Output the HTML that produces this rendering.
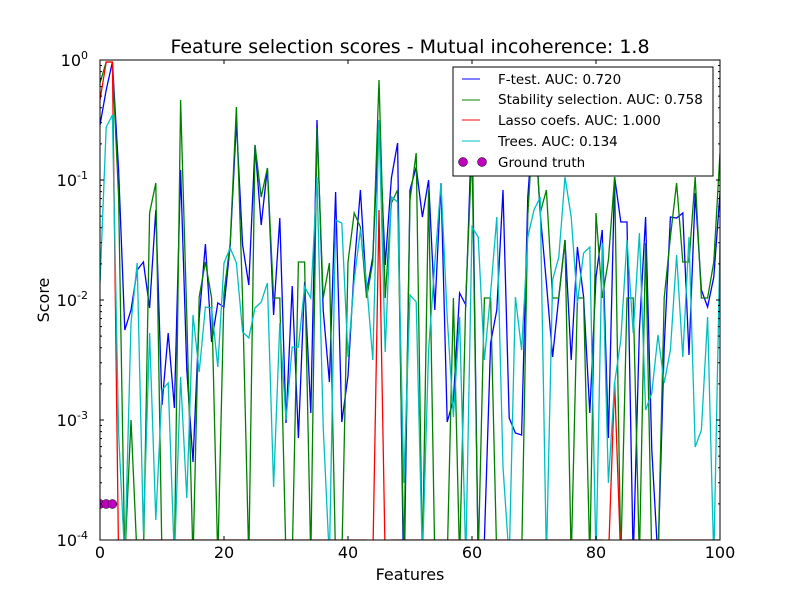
<!DOCTYPE html>
<html><head><meta charset="utf-8"><style>
body{margin:0;background:#fff}
svg{display:block;font-family:"DejaVu Sans","Liberation Sans",sans-serif}
</style></head><body>
<svg id="s" width="800" height="600" xmlns="http://www.w3.org/2000/svg">
<rect width="800" height="600" fill="#fff"/>
<defs><clipPath id="c"><rect x="100" y="60" width="620" height="480"/></clipPath></defs>
<g id="plot" clip-path="url(#c)"></g>
<rect x="100" y="60" width="620" height="480" fill="none" stroke="#000" stroke-width="1"/>
<g id="ticks" stroke="#000" stroke-width="1"></g>
<g font-size="16" text-anchor="middle">
<text x="100" y="558">0</text><text x="224" y="558">20</text><text x="348" y="558">40</text>
<text x="472" y="558">60</text><text x="596" y="558">80</text><text x="720" y="558">100</text>
</g>
<g font-size="16" text-anchor="end">
<text x="88" y="66">10<tspan font-size="11" dy="-7">0</tspan></text>
<text x="88" y="186">10<tspan font-size="11" dy="-7">-1</tspan></text>
<text x="88" y="306">10<tspan font-size="11" dy="-7">-2</tspan></text>
<text x="88" y="426">10<tspan font-size="11" dy="-7">-3</tspan></text>
<text x="88" y="546">10<tspan font-size="11" dy="-7">-4</tspan></text>
</g>
<text x="410" y="53" font-size="19" text-anchor="middle">Feature selection scores - Mutual incoherence: 1.8</text>
<text x="410" y="580" font-size="16" text-anchor="middle">Features</text>
<text x="49" y="300" font-size="16" text-anchor="middle" transform="rotate(-90 49 300)">Score</text>
<g>
<rect x="453" y="67" width="260" height="109" fill="#fff" stroke="#000"/>
<line x1="462" y1="79" x2="480" y2="79" stroke="#0000ff"/>
<line x1="462" y1="100" x2="480" y2="100" stroke="#008000"/>
<line x1="462" y1="120" x2="480" y2="120" stroke="#ff0000"/>
<line x1="462" y1="141" x2="480" y2="141" stroke="#00bfbf"/>
<circle cx="463" cy="162" r="4.5" fill="#bf00bf" stroke="#000" stroke-width="0.5"/>
<circle cx="482" cy="162" r="4.5" fill="#bf00bf" stroke="#000" stroke-width="0.5"/>
<g font-size="13.5">
<text x="498" y="84">F-test. AUC: 0.720</text>
<text x="498" y="104">Stability selection. AUC: 0.758</text>
<text x="498" y="125">Lasso coefs. AUC: 1.000</text>
<text x="498" y="146">Trees. AUC: 0.134</text>
<text x="498" y="167">Ground truth</text>
</g>
</g>
</svg>
<script>
var B=[125,90,62,170,330,310,270,262,308,210,405,333,408,170,370,462,318,244,342,303,307,245,122,245,285,145,225,168,315,218,423,286,438,282,413,120,310,382,192,422,376,268,190,292,257,120,265,178,143,600,190,167,217,180,310,183,422,400,293,305,120,560,540,343,310,190,418,433,435,197,110,213,283,357,297,240,360,247,297,413,277,230,438,177,222,222,560,330,217,450,560,347,217,218,213,355,193,290,307,277,193];
var G=[83,62,62,197,560,420,560,560,213,183,560,560,560,100,317,560,297,262,298,560,293,243,107,300,560,145,197,168,298,298,560,560,262,262,560,128,298,263,560,560,262,213,227,298,262,80,298,203,190,560,200,153,560,190,560,560,560,298,560,298,150,560,298,298,560,560,560,560,560,215,110,213,190,298,298,240,560,298,298,560,213,298,260,177,560,298,298,560,243,560,560,298,237,183,262,262,177,298,298,262,153];
var C=[283,127,115,433,560,323,263,533,333,520,390,383,560,377,498,315,372,307,308,367,263,248,263,332,338,308,302,283,487,323,420,347,347,287,298,177,427,560,220,223,357,280,230,283,360,120,352,197,202,483,295,302,560,350,263,183,317,417,317,560,227,237,360,293,217,467,560,297,350,237,210,197,560,280,257,177,217,303,253,247,560,243,483,383,340,240,333,233,410,393,335,383,350,255,357,237,447,430,317,560,243];
var R=[];for(var i=0;i<=100;i++)R.push(540);R[0]=100;R[1]=62;R[2]=62;R[3]=560;R[45]=210;R[44]=560;R[46]=560;R[83]=382;R[82]=560;R[84]=560;
function pts(a){return a.map(function(v,i){return (100+6.2*i).toFixed(1)+","+v}).join(" ")}
var ns="http://www.w3.org/2000/svg",p=document.getElementById("plot");
[[B,"#0000ff"],[G,"#008000"],[R,"#ff0000"],[C,"#00bfbf"]].forEach(function(s){var e=document.createElementNS(ns,"polyline");e.setAttribute("points",pts(s[0]));e.setAttribute("fill","none");e.setAttribute("stroke",s[1]);e.setAttribute("stroke-width","1.3");p.appendChild(e)});
[0,1,2].forEach(function(k){var c=document.createElementNS(ns,"circle");c.setAttribute("cx",100+6.2*k);c.setAttribute("cy",504);c.setAttribute("r",4.5);c.setAttribute("fill","#bf00bf");c.setAttribute("stroke","#000");c.setAttribute("stroke-width","0.5");p.appendChild(c)});
var t=document.getElementById("ticks"),h="";
for(var x=0;x<=100;x+=20){var px=100+6.2*x;h+='<line x1="'+px+'" y1="540" x2="'+px+'" y2="536"/><line x1="'+px+'" y1="60" x2="'+px+'" y2="64"/>';}
for(var d=0;d<4;d++){for(var m=1;m<=10;m++){var y=540-120*d-120*Math.log10(m);var L=(m==1||m==10)?4:2;h+='<line x1="100" y1="'+y+'" x2="'+(100+L)+'" y2="'+y+'"/><line x1="720" y1="'+y+'" x2="'+(720-L)+'" y2="'+y+'"/>';}}
t.innerHTML=h;
</script>
</body></html>
